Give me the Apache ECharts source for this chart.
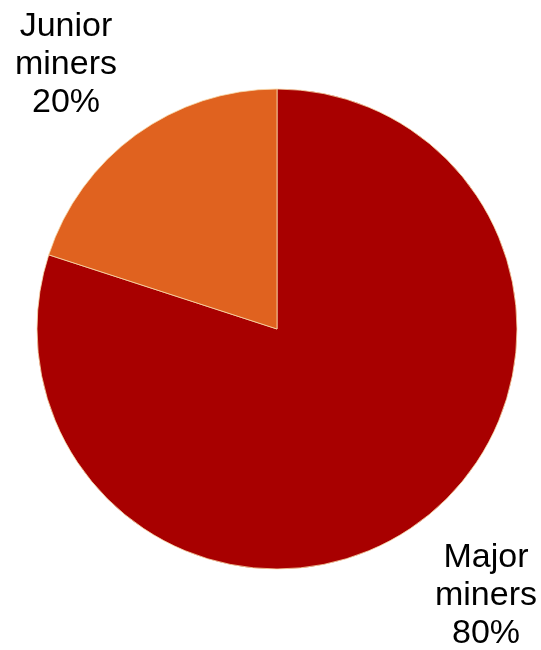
<!DOCTYPE html>
<html>
<head>
<meta charset="utf-8">
<script src="https://cdn.jsdelivr.net/npm/echarts@6/dist/echarts.min.js"></script>
<style>
  html, body { margin: 0; padding: 0; background: #fff; }
  #chart { width: 541px; height: 650px; }
</style>
</head>
<body>
<div id="chart"></div>
<script>
// slices, clockwise from 12 o'clock
const names = ["Major miners", "Junior miners"];
const shares = [80, 20];
const colors = ["#A80000", "#E0621F"];

// where each label sits (centre of the text block)
const labelPos = [
  { x: 486, y: 596 },
  { x: 66, y: 65 },
];

const chart = echarts.init(document.getElementById("chart"));

let data = [];
for (let i = 0; i < names.length; i++) {
  data.push({
    name: names[i],
    value: shares[i],
    itemStyle: { color: colors[i] },
  });
}

chart.setOption({
  animation: false,
  series: [
    {
      type: "pie",
      center: [277, 329],
      radius: 240,
      startAngle: 90,
      clockwise: true,
      data: data,
      itemStyle: {
        borderColor: "#F8D9A8",
        borderWidth: 0.8,
      },
      label: {
        show: true,
        position: "outside",
        formatter: (p) => p.name.replace(" ", "\n") + "\n" + p.value + "%",
        fontFamily: "Liberation Sans, Arial, sans-serif",
        fontSize: 34,
        lineHeight: 38,
        color: "#000",
        align: "center",
        overflow: "none",
      },
      labelLine: { show: false },
      labelLayout: (p) => {
        const pos = labelPos[p.dataIndex];
        return {
          x: pos.x,
          y: pos.y,
          align: "center",
          verticalAlign: "middle",
        };
      },
      emphasis: { disabled: true },
    },
  ],
});
</script>
</body>
</html>
